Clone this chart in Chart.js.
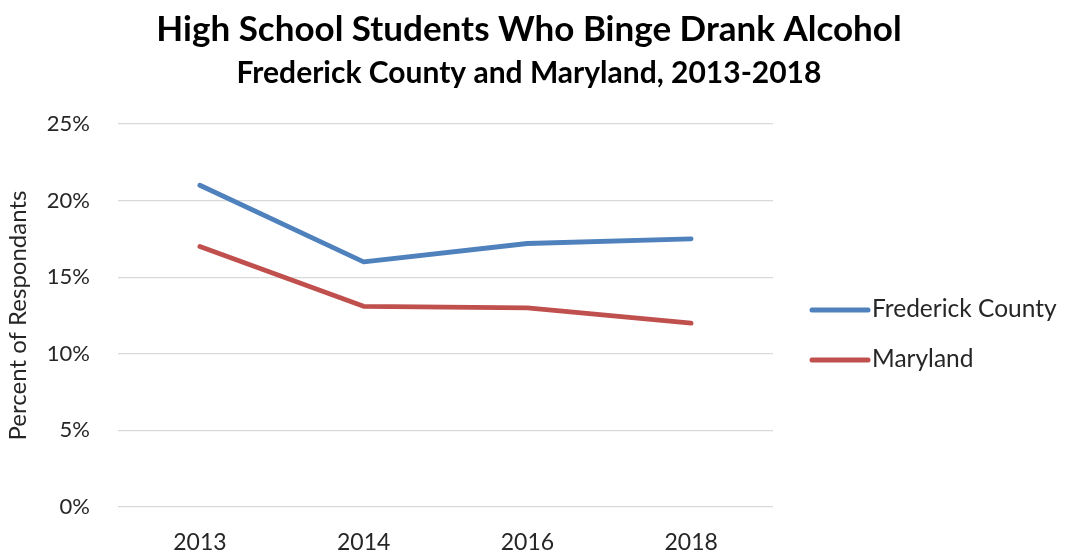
<!DOCTYPE html>
<html>
<head>
<meta charset="utf-8">
<script src="https://cdn.jsdelivr.net/npm/chart.js@4.4.1/dist/chart.umd.min.js"></script>
<style>
  html, body { margin: 0; padding: 0; background: #ffffff; }
  #wrap { width: 1066px; height: 553px; position: relative; }
</style>
</head>
<body>
<div id="wrap"><canvas id="chart" width="1066" height="553"></canvas></div>
<script>
// Survey years and binge-drinking rates (percent of respondents)
const years = ['2013', '2014', '2016', '2018'];
const frederickCounty = [21.0, 16.0, 17.2, 17.5];
const maryland = [17.0, 13.1, 13.0, 12.0];
const seriesNames = ['Frederick County', 'Maryland'];
const seriesColors = ['#4F81BD', '#C0504D'];

const titleText = 'High School Students Who Binge Drank Alcohol';
const subtitleText = 'Frederick County and Maryland, 2013-2018';
const yAxisTitle = 'Percent of Respondants';

const FONT = 'Lato, "Open Sans", sans-serif';

// Titles drawn centred above the plot
const headingPlugin = {
  id: 'heading',
  afterDraw(chart) {
    const ctx = chart.ctx;
    ctx.save();
    ctx.fillStyle = '#000000';
    ctx.textAlign = 'center';
    ctx.textBaseline = 'alphabetic';
    ctx.font = 'bold 35px ' + FONT;
    ctx.fillText(titleText, 529, 41);
    ctx.font = 'bold 30px ' + FONT;
    ctx.fillText(subtitleText, 529, 83);
    ctx.restore();
  }
};

// Line-sample legend to the right of the plot
const sideLegendPlugin = {
  id: 'sideLegend',
  afterDraw(chart) {
    const ctx = chart.ctx;
    ctx.save();
    ctx.font = '24.5px ' + FONT;
    ctx.textBaseline = 'middle';
    ctx.textAlign = 'left';
    chart.data.datasets.forEach((ds, i) => {
      const y = 310 + i * 50;
      ctx.strokeStyle = ds.borderColor;
      ctx.lineWidth = 5;
      ctx.lineCap = 'round';
      ctx.beginPath();
      ctx.moveTo(812, y);
      ctx.lineTo(868, y);
      ctx.stroke();
      ctx.fillStyle = '#262626';
      ctx.fillText(ds.label, 872, y - 1);
    });
    ctx.restore();
  }
};

new Chart(document.getElementById('chart'), {
  type: 'line',
  data: {
    labels: years,
    datasets: [
      { label: seriesNames[0], data: frederickCounty, borderColor: seriesColors[0], backgroundColor: seriesColors[0] },
      { label: seriesNames[1], data: maryland, borderColor: seriesColors[1], backgroundColor: seriesColors[1] }
    ]
  },
  options: {
    responsive: false,
    animation: false,
    layout: { padding: { top: 124, right: 293, bottom: 0, left: 0 } },
    elements: {
      line: { borderWidth: 4.8, tension: 0, borderCapStyle: 'round', borderJoinStyle: 'round' },
      point: { radius: 0, hoverRadius: 0 }
    },
    plugins: {
      legend: { display: false },
      title: { display: false },
      tooltip: { enabled: false }
    },
    scales: {
      x: {
        offset: true,
        grid: { display: false, drawTicks: false },
        border: { display: false },
        ticks: { color: '#262626', font: { family: FONT, size: 23 }, padding: 22 },
        afterFit(scale) { scale.height = 46; }
      },
      y: {
        min: 0,
        max: 25,
        ticks: {
          stepSize: 5,
          color: '#262626',
          font: { family: FONT, size: 22 },
          padding: 28,
          callback: v => v + '%'
        },
        grid: { color: '#D9D9D9', lineWidth: 1.3, drawTicks: false },
        border: { display: false },
        title: {
          display: true,
          text: yAxisTitle,
          color: '#262626',
          font: { family: FONT, size: 24 },
          padding: { top: 4, bottom: 0 }
        },
        afterFit(scale) { scale.width = 118; }
      }
    }
  },
  plugins: [headingPlugin, sideLegendPlugin]
});
</script>
</body>
</html>
